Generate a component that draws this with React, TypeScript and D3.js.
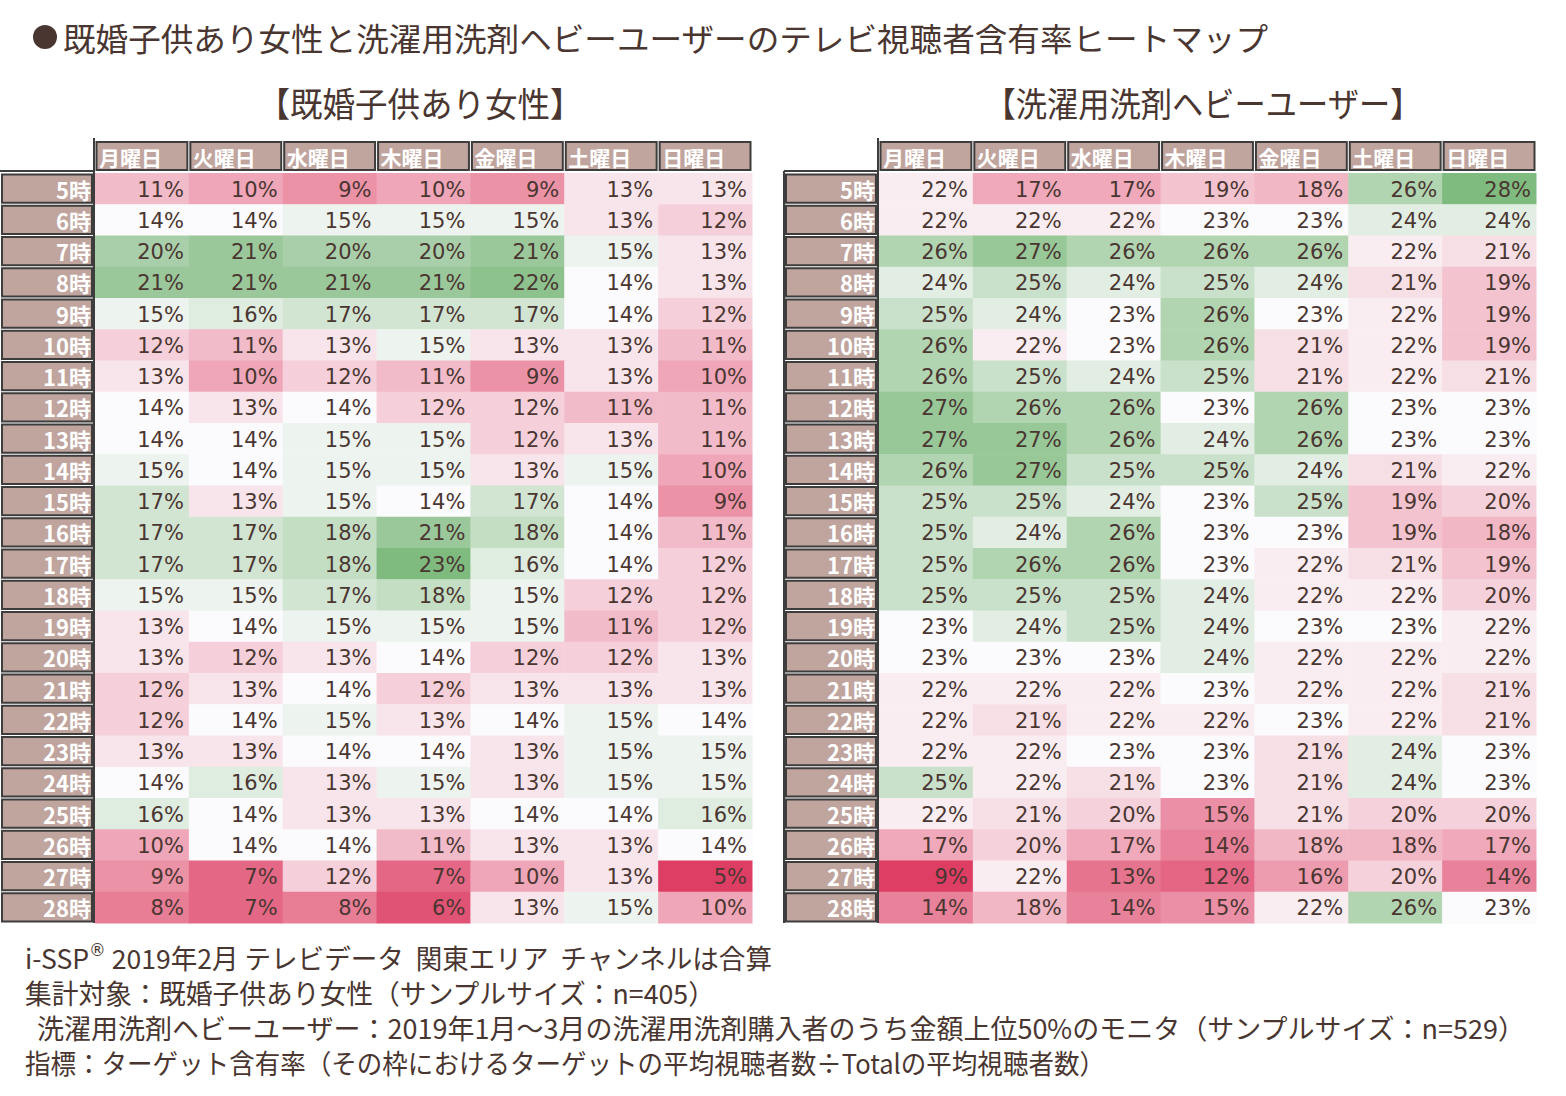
import * as d3 from "d3";

// 曜日と時間帯
const days = ["月曜日", "火曜日", "水曜日", "木曜日", "金曜日", "土曜日", "日曜日"];
const hours = [
  "5時", "6時", "7時", "8時", "9時", "10時", "11時", "12時", "13時", "14時", "15時", "16時",
  "17時", "18時", "19時", "20時", "21時", "22時", "23時", "24時", "25時", "26時", "27時", "28時",
];

// 既婚子供あり女性 含有率(%) 行=時間帯, 列=曜日
const womenRates = [
  [11, 10, 9, 10, 9, 13, 13],
  [14, 14, 15, 15, 15, 13, 12],
  [20, 21, 20, 20, 21, 15, 13],
  [21, 21, 21, 21, 22, 14, 13],
  [15, 16, 17, 17, 17, 14, 12],
  [12, 11, 13, 15, 13, 13, 11],
  [13, 10, 12, 11, 9, 13, 10],
  [14, 13, 14, 12, 12, 11, 11],
  [14, 14, 15, 15, 12, 13, 11],
  [15, 14, 15, 15, 13, 15, 10],
  [17, 13, 15, 14, 17, 14, 9],
  [17, 17, 18, 21, 18, 14, 11],
  [17, 17, 18, 23, 16, 14, 12],
  [15, 15, 17, 18, 15, 12, 12],
  [13, 14, 15, 15, 15, 11, 12],
  [13, 12, 13, 14, 12, 12, 13],
  [12, 13, 14, 12, 13, 13, 13],
  [12, 14, 15, 13, 14, 15, 14],
  [13, 13, 14, 14, 13, 15, 15],
  [14, 16, 13, 15, 13, 15, 15],
  [16, 14, 13, 13, 14, 14, 16],
  [10, 14, 14, 11, 13, 13, 14],
  [9, 7, 12, 7, 10, 13, 5],
  [8, 7, 8, 6, 13, 15, 10],
];

// 洗濯用洗剤ヘビーユーザー 含有率(%)
const heavyRates = [
  [22, 17, 17, 19, 18, 26, 28],
  [22, 22, 22, 23, 23, 24, 24],
  [26, 27, 26, 26, 26, 22, 21],
  [24, 25, 24, 25, 24, 21, 19],
  [25, 24, 23, 26, 23, 22, 19],
  [26, 22, 23, 26, 21, 22, 19],
  [26, 25, 24, 25, 21, 22, 21],
  [27, 26, 26, 23, 26, 23, 23],
  [27, 27, 26, 24, 26, 23, 23],
  [26, 27, 25, 25, 24, 21, 22],
  [25, 25, 24, 23, 25, 19, 20],
  [25, 24, 26, 23, 23, 19, 18],
  [25, 26, 26, 23, 22, 21, 19],
  [25, 25, 25, 24, 22, 22, 20],
  [23, 24, 25, 24, 23, 23, 22],
  [23, 23, 23, 24, 22, 22, 22],
  [22, 22, 22, 23, 22, 22, 21],
  [22, 21, 22, 22, 23, 22, 21],
  [22, 22, 23, 23, 21, 24, 23],
  [25, 22, 21, 23, 21, 24, 23],
  [22, 21, 20, 15, 21, 20, 20],
  [17, 20, 17, 14, 18, 18, 17],
  [9, 22, 13, 12, 16, 20, 14],
  [14, 18, 14, 15, 22, 26, 23],
];

const footnotes = [
  "集計対象：既婚子供あり女性（サンプルサイズ：n=405）",
  "\u00a0\u00a0洗濯用洗剤ヘビーユーザー：2019年1月～3月の洗濯用洗剤購入者のうち金額上位50%のモニタ（サンプルサイズ：n=529）",
  "指標：ターゲット含有率（その枠におけるターゲットの平均視聴者数÷Totalの平均視聴者数）",
];

const TEXT = "#4a3631";
const LABEL_BG = "#c0a49e";
const BORDER = "#3d3d3d";
const JP = "'Noto Sans CJK JP', sans-serif";
const NUM = "'DejaVu Sans', 'Noto Sans CJK JP', sans-serif";

function Heatmap({ rates, x0, x1, labelX0 }: { rates: number[][]; x0: number; x1: number; labelX0: number }) {
  const x = d3.scaleBand<string>().domain(days).range([x0, x1]);
  const y = d3.scaleBand<string>().domain(hours).range([173, 923]);
  const flat = rates.flat();
  // 3色スケール: 最小=赤, 中央値=白, 最大=緑
  const color = d3
    .scaleLinear<string>()
    .domain([d3.min(flat)!, d3.median(flat)!, d3.max(flat)!])
    .range(["#de3e63", "#fbfafc", "#7fba7f"])
    .interpolate(d3.interpolateRgb);
  const bw = x.bandwidth();
  const bh = y.bandwidth();
  return (
    <g>
      {rates.map((row, i) =>
        row.map((v, j) => (
          <g key={`${i}-${j}`}>
            <rect x={x(days[j])!} y={y(hours[i])!} width={bw + 0.5} height={bh + 0.5} fill={color(v)} />
            <text
              x={x(days[j])! + bw - 5}
              y={y(hours[i])! + bh / 2 + 1}
              textAnchor="end"
              dominantBaseline="central"
              fontFamily={NUM}
              fontSize={21}
              fill={TEXT}
            >
              {v}%
            </text>
          </g>
        ))
      )}
      {days.map((d) => (
        <g key={d}>
          <rect x={x(d)! + 1.5} y={142} width={bw - 3} height={28} fill={LABEL_BG} stroke={BORDER} strokeWidth={2} />
          <text x={x(d)! + 4} y={157} dominantBaseline="central" fontFamily={JP} fontWeight="bold" fontSize={21} fill="#fff">
            {d}
          </text>
        </g>
      ))}
      {hours.map((h) => (
        <g key={h}>
          <rect x={labelX0 + 2} y={y(h)! + 1.5} width={x0 - labelX0 - 5} height={bh - 3} fill={LABEL_BG} stroke={BORDER} strokeWidth={2} />
          <text x={x0 - 4} y={y(h)! + bh / 2} textAnchor="end" dominantBaseline="central" fontFamily={JP} fontWeight="bold" fontSize={22} fill="#fff">
            {h}
          </text>
        </g>
      ))}
      <line x1={x0 - 1} x2={x0 - 1} y1={138} y2={923} stroke={BORDER} strokeWidth={2} />
      <line x1={labelX0} x2={x0 - 1} y1={171} y2={171} stroke={BORDER} strokeWidth={2} />
      {labelX0 > 0 && <line x1={labelX0} x2={labelX0} y1={171} y2={923} stroke={BORDER} strokeWidth={2} />}
    </g>
  );
}

export default function App() {
  return (
    <svg width={1566} height={1096} style={{ position: "absolute", left: 0, top: 0, background: "#fff" }}>
      <circle cx={45} cy={37} r={12} fill={TEXT} />
      <text x={63} y={37} dominantBaseline="central" fontFamily={JP} fontSize={32} fill={TEXT} textLength={1205} lengthAdjust="spacingAndGlyphs">
        既婚子供あり女性と洗濯用洗剤ヘビーユーザーのテレビ視聴者含有率ヒートマップ
      </text>
      <text x={420} y={102} textAnchor="middle" dominantBaseline="central" fontFamily={JP} fontSize={34} fill={TEXT} textLength={325} lengthAdjust="spacingAndGlyphs">
        【既婚子供あり女性】
      </text>
      <text x={1203} y={102} textAnchor="middle" dominantBaseline="central" fontFamily={JP} fontSize={34} fill={TEXT} textLength={437} lengthAdjust="spacingAndGlyphs">
        【洗濯用洗剤ヘビーユーザー】
      </text>

      <Heatmap rates={womenRates} x0={95} x1={752} labelX0={0} />
      <Heatmap rates={heavyRates} x0={879} x1={1536} labelX0={784} />

      <text x={25} y={957} dominantBaseline="central" fontFamily={JP} fontSize={27} fill={TEXT} textLength={747} lengthAdjust="spacingAndGlyphs">
        i-SSP<tspan fontFamily="'DejaVu Sans', sans-serif" fontSize={17} dy={-7}>®</tspan>
        <tspan dy={7}>{"\u00a0"}2019年2月 テレビデータ{"\u00a0\u00a0"}関東エリア{"\u00a0\u00a0"}チャンネルは合算</tspan>
      </text>
      <text x={25} y={992} dominantBaseline="central" fontFamily={JP} fontSize={27} fill={TEXT} textLength={690} lengthAdjust="spacingAndGlyphs">
        {footnotes[0]}
      </text>
      <text x={25} y={1027} dominantBaseline="central" fontFamily={JP} fontSize={27} fill={TEXT} textLength={1500} lengthAdjust="spacingAndGlyphs">
        {footnotes[1]}
      </text>
      <text x={25} y={1062} dominantBaseline="central" fontFamily={JP} fontSize={27} fill={TEXT} textLength={1080} lengthAdjust="spacingAndGlyphs">
        {footnotes[2]}
      </text>
    </svg>
  );
}
